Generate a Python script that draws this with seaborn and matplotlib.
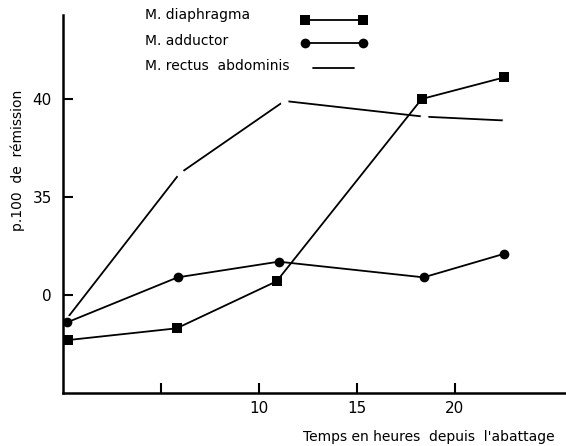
import matplotlib
matplotlib.use("Agg")
import matplotlib.pyplot as plt
from matplotlib.lines import Line2D
import seaborn as sns
import pandas as pd

# ---- data ----
diaphragma_x = [0.25, 5.8, 10.9, 18.3, 22.5]
diaphragma_y = [27.7, 28.3, 30.7, 40.0, 41.1]
adductor_x = [0.2, 5.85, 11.0, 18.4, 22.5]
adductor_y = [28.6, 30.9, 31.7, 30.9, 32.1]
rectus_x = [0.2, 5.95, 11.3, 18.4, 22.6]
rectus_y = [28.8, 36.2, 39.9, 39.1, 38.9]

series_names = ["M. diaphragma", "M. adductor", "M. rectus  abdominis"]
y_ticks = [30, 35, 40]
y_tick_labels = ["0", "35", "40"]
x_ticks = [5, 10, 15, 20]
x_tick_labels = ["", "10", "15", "20"]
x_label = "Temps en heures  depuis  l'abattage"
y_label = "p.100  de  rémission"

sns.set_style("ticks")
plt.rcParams["font.family"] = ["DejaVu Sans"]
plt.rcParams["text.color"] = "black"
plt.rcParams["xtick.color"] = "black"
plt.rcParams["ytick.color"] = "black"
plt.rcParams["axes.labelcolor"] = "black"

fig = plt.figure(figsize=(5.66, 4.46), dpi=100)
ax = fig.add_axes([63 / 566, 1 - 393 / 446, 1 - 63 / 566, (393 - 15) / 446])

df_d = pd.DataFrame({"x": diaphragma_x, "y": diaphragma_y})
df_a = pd.DataFrame({"x": adductor_x, "y": adductor_y})
df_r = pd.DataFrame({"x": rectus_x, "y": rectus_y})

sns.lineplot(data=df_r, x="x", y="y", ax=ax, color="black", lw=1.3,
             marker="o", markersize=5, markerfacecolor="white",
             markeredgecolor="white", sort=False, zorder=2)
sns.lineplot(data=df_a, x="x", y="y", ax=ax, color="black", lw=1.3,
             marker="o", markersize=7, markeredgewidth=0, sort=False, zorder=3)
sns.lineplot(data=df_d, x="x", y="y", ax=ax, color="black", lw=1.3,
             marker="s", markersize=7.5, markeredgewidth=0, sort=False, zorder=4)

ax.set_xlim(0, (566 - 63) / 19.6)
ax.set_ylim(25, 25 + (393 - 15) / 19.6)
ax.set_xticks(x_ticks)
ax.set_xticklabels(x_tick_labels, fontsize=11)
ax.set_yticks(y_ticks)
ax.set_yticklabels(y_tick_labels, fontsize=11)
ax.tick_params(direction="in", length=7, width=1.5, color="black",
               labelcolor="black", pad=6)
ax.tick_params(axis="y", pad=8)
ax.set_xlabel("")
ax.set_ylabel("")
for s in ["top", "right"]:
    ax.spines[s].set_visible(False)
for s in ["left", "bottom"]:
    ax.spines[s].set_linewidth(1.8)
    ax.spines[s].set_color("black")

fig.text(555 / 566, 1 - 437 / 446, x_label, ha="right", va="center",
         fontsize=10, color="black")
fig.text(18 / 566, 1 - 160 / 446, y_label, ha="center", va="center",
         rotation=90, fontsize=10, color="black")

# legend-like key drawn in figure coordinates
label_y = [15, 41, 66]
for name, yy in zip(series_names, label_y):
    fig.text(145 / 566, 1 - yy / 446, name, ha="left", va="center",
             fontsize=10, color="black")

def fx(px):
    return px / 566

def fy(py):
    return 1 - py / 446

fig.add_artist(Line2D([fx(305), fx(363)], [fy(20), fy(20)], color="black", lw=1.3,
                      transform=fig.transFigure))
fig.add_artist(Line2D([fx(305), fx(363)], [fy(20), fy(20)], color="black", lw=0,
                      marker="s", markersize=7.5, markeredgewidth=0,
                      transform=fig.transFigure))
fig.add_artist(Line2D([fx(305), fx(363)], [fy(43), fy(43)], color="black", lw=1.3,
                      transform=fig.transFigure))
fig.add_artist(Line2D([fx(305), fx(363)], [fy(43), fy(43)], color="black", lw=0,
                      marker="o", markersize=7, markeredgewidth=0,
                      transform=fig.transFigure))
fig.add_artist(Line2D([fx(313), fx(354)], [fy(68), fy(68)], color="black", lw=1.3,
                      transform=fig.transFigure))

fig.savefig("out.png", dpi=100)
